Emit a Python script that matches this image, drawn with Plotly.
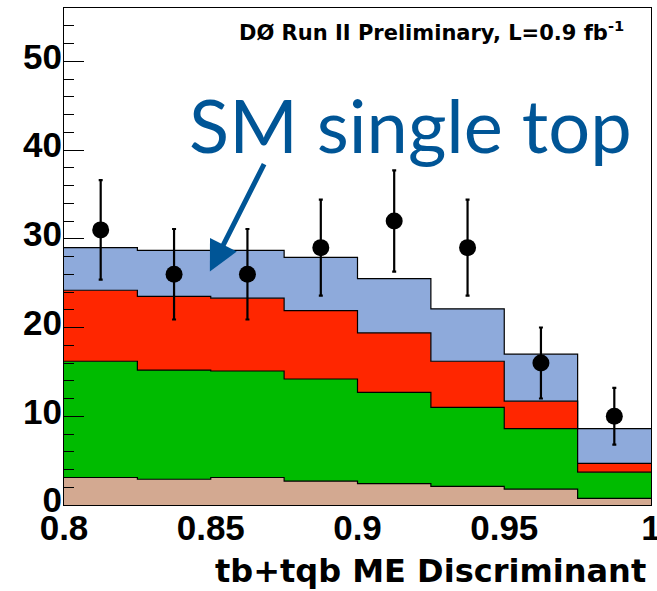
import numpy as np
import plotly.graph_objects as go

# Bin edges of the discriminant histogram
bin_edges = [0.8, 0.825, 0.85, 0.875, 0.9, 0.925, 0.95, 0.975, 1.0]
bin_centers = [0.8125, 0.8375, 0.8625, 0.8875, 0.9125, 0.9375, 0.9625, 0.9875]

# Stacked background / signal components (events per bin)
other_bkg = [3.1, 2.9, 3.1, 2.7, 2.4, 2.1, 1.8, 0.75]      # tan
wjets = [13.1, 12.3, 12.0, 11.5, 10.3, 8.9, 6.8, 2.95]      # green
ttbar = [8.0, 8.3, 8.2, 7.7, 6.7, 5.2, 3.1, 1.0]            # red
single_top = [4.8, 5.2, 5.4, 6.0, 6.1, 5.9, 5.3, 3.9]       # blue

# Data
data_counts = [31, 26, 26, 29, 32, 29, 16, 10]
data_errors = [5.6, 5.1, 5.1, 5.4, 5.7, 5.4, 4.0, 3.2]

components = [
    (other_bkg, "#d3a991"),
    (wjets, "#00bb00"),
    (ttbar, "#ff2600"),
    (single_top, "#8eaadb"),
]

fig = go.Figure()
cum = np.zeros(len(bin_centers))
first = True
for vals, col in components:
    cum = cum + np.array(vals)
    y_step = list(cum) + [cum[-1]]
    fig.add_trace(go.Scatter(
        x=bin_edges, y=y_step, mode="lines", line_shape="hv",
        line=dict(color="black", width=1.2),
        fill="tozeroy" if first else "tonexty", fillcolor=col,
        hoverinfo="skip", showlegend=False,
    ))
    first = False

fig.add_trace(go.Scatter(
    x=bin_centers, y=data_counts, mode="markers",
    marker=dict(color="black", size=17),
    error_y=dict(type="data", array=data_errors, color="black", thickness=2.2, width=2),
    showlegend=False,
))

tick_font = dict(family="Liberation Sans", size=35, color="black")

fig.update_layout(
    width=657, height=591,
    margin=dict(l=64, r=6, t=8, b=86),
    paper_bgcolor="white", plot_bgcolor="white",
    xaxis=dict(
        range=[0.8, 1.0], tickvals=[0.8, 0.85, 0.9, 0.95, 1.0],
        ticktext=["<b>0.8</b>", "<b>0.85</b>", "<b>0.9</b>", "<b>0.95</b>", "<b>1</b>"],
        ticks="", showgrid=False, zeroline=False, automargin=False,
        showline=True, linecolor="black", linewidth=1.2, mirror=True,
        tickfont=tick_font, ticklabelstandoff=-8, ticklabeloverflow="allow",
    ),
    yaxis=dict(
        range=[0, 56], tickvals=[0, 10, 20, 30, 40, 50],
        ticktext=["<b>0</b>", "<b>10</b>", "<b>20</b>", "<b>30</b>", "<b>40</b>", "<b>50</b>"],
        ticks="inside", ticklen=20, tickwidth=1.2, tickcolor="black",
        minor=dict(dtick=2, tick0=0, ticks="inside", ticklen=10, tickwidth=1.2, tickcolor="black"),
        showgrid=False, zeroline=False, automargin=False,
        showline=True, linecolor="black", linewidth=1.2, mirror=True,
        tickfont=tick_font, ticklabelstandoff=-6, ticklabelshift=-5,
        ticklabeloverflow="allow",
    ),
)

fig.add_annotation(
    xref="paper", yref="paper", x=0.958, y=0.985, xanchor="right", yanchor="top",
    text="<b>DØ Run II Preliminary, L=0.9 fb<sup>-1</sup></b>", showarrow=False,
    font=dict(family="DejaVu Sans", size=21, color="black"),
)

fig.add_annotation(
    xref="paper", yref="paper", x=0.591, y=0.766, xanchor="center", yanchor="middle",
    text="SM single top", showarrow=False,
    font=dict(family="Lato", size=74, color="#005596"),
)

fig.add_annotation(
    x=0.8497, y=26.3, xref="x", yref="y", ax=55, ay=-109,
    text="", showarrow=True, arrowhead=2, arrowsize=1.2, arrowwidth=5,
    arrowcolor="#005596", standoff=0,
)

fig.add_annotation(
    xref="paper", yref="paper", x=0.995, y=-0.133, xanchor="right", yanchor="middle",
    text="<b>tb+tqb ME Discriminant</b>", showarrow=False,
    font=dict(family="DejaVu Sans", size=32, color="black"),
)

fig.write_html("out.html", post_script="document.body.style.margin='0px';",
               config={"displayModeBar": False})
